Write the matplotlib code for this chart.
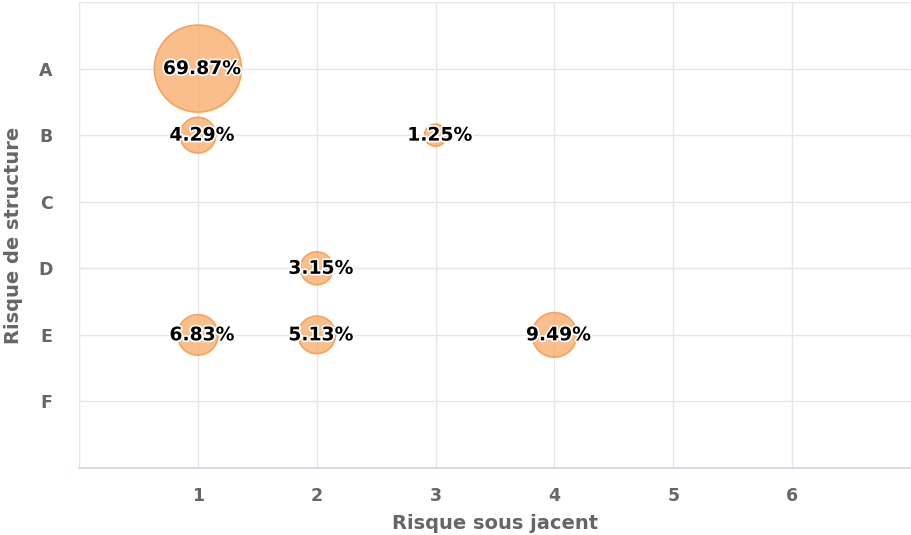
import numpy as np
import matplotlib
matplotlib.use("Agg")
import matplotlib.pyplot as plt
import matplotlib.patheffects as pe
import matplotlib.transforms as mtransforms

# Bubble data: underlying risk (x), structure risk grade (y), share of exposure (%)
x_vals = [1, 1, 3, 2, 1, 2, 4]
y_cats = ["A", "B", "B", "D", "E", "E", "E"]
shares = [69.87, 4.29, 1.25, 3.15, 6.83, 5.13, 9.49]

grade_labels = ["A", "B", "C", "D", "E", "F"]
x_ticks = [1, 2, 3, 4, 5, 6]

grade_pos = {g: len(grade_labels) - i for i, g in enumerate(grade_labels)}
y_vals = [grade_pos[c] for c in y_cats]

W, H, DPI = 912, 535, 100
fig = plt.figure(figsize=(W / DPI, H / DPI), dpi=DPI)
ax = fig.add_axes([79 / W, (H - 468) / H, (911 - 79) / W, (468 - 2) / H])

# Bubble diameters scale with sqrt of value between min and max pixel sizes
min_d, max_d = 22.0, 87.0
v = np.array(shares)
frac = np.sqrt((v - v.min()) / (v.max() - v.min()))
diam_px = min_d + (max_d - min_d) * frac
sizes = (diam_px * 72.0 / DPI) ** 2

orange = "#f7a35c"
ax.scatter(x_vals, y_vals, s=sizes, facecolor=(247/255, 163/255, 92/255, 0.7),
           edgecolor=orange, linewidth=1.2, zorder=3)

label_tr = ax.transData + mtransforms.ScaledTranslation(4 / DPI, 0, fig.dpi_scale_trans)
for xv, yv, val in zip(x_vals, y_vals, shares):
    ax.text(xv, yv, f"{val:.2f}%", ha="center", va="center", fontsize=13.5,
            fontweight="bold", color="black", zorder=4, transform=label_tr,
            path_effects=[pe.withStroke(linewidth=2.5, foreground="white")])

ax.set_xlim(0, 7)
ax.set_ylim(0, 7)
ax.set_xticks(x_ticks)
ax.set_xticklabels([str(t) for t in x_ticks])
ax.set_yticks([grade_pos[g] for g in grade_labels])
ax.set_yticklabels(grade_labels)

grid_c = "#e6e6e6"
for xx in range(0, 8):
    ax.axvline(xx, color=grid_c, linewidth=1, zorder=1)
for yy in range(0, 8):
    ax.axhline(yy, color=grid_c, linewidth=1, zorder=1)

for s in ["top", "right", "left"]:
    ax.spines[s].set_visible(False)
ax.spines["bottom"].set_color("#ccd6eb")
ax.spines["bottom"].set_linewidth(1.2)
ax.spines["bottom"].set_zorder(2)

ax.tick_params(axis="both", length=0, labelsize=12.5, labelcolor="#666666")
ax.tick_params(axis="x", pad=14)
ax.tick_params(axis="y", pad=19)
for lab in ax.get_xticklabels() + ax.get_yticklabels():
    lab.set_fontweight("bold")

ax.set_xlabel("Risque sous jacent", fontsize=14, fontweight="bold", color="#666666", labelpad=6)
ax.set_ylabel("Risque de structure", fontsize=14, fontweight="bold", color="#666666", labelpad=11)

fig.savefig("out.png", dpi=DPI)
